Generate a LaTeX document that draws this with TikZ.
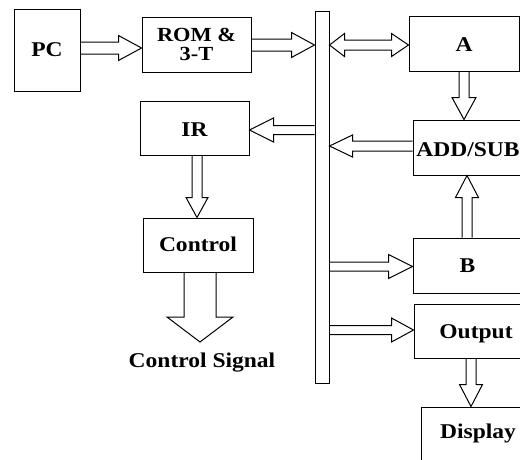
\documentclass[tikz,border=0pt]{standalone}
\usepackage{fontspec}
\setmainfont{Liberation Serif}[FakeStretch=1.12]
\usetikzlibrary{calc}
% block arrow: #1 start, #2 tip, #3 shaft half width, #4 head half width, #5 head length
\newcommand\blockarrow[5]{%
  \path #1 coordinate (ba-s) #2 coordinate (ba-t);
  \path ($(ba-t)!#5!(ba-s)$) coordinate (ba-b);
  \draw[blk] ($(ba-s)!#3!90:(ba-t)$) -- ($(ba-b)!#3!90:(ba-t)$) -- ($(ba-b)!#4!90:(ba-t)$)
    -- (ba-t) -- ($(ba-b)!#4!-90:(ba-t)$) -- ($(ba-b)!#3!-90:(ba-t)$) -- ($(ba-s)!#3!-90:(ba-t)$);
}
% double block arrow: #1 start tip, #2 end tip, #3 shaft half, #4 head half, #5 first head length, #6 second head length
\newcommand\dblarrow[6]{%
  \path #1 coordinate (da-s) #2 coordinate (da-t);
  \path ($(da-s)!#5!(da-t)$) coordinate (da-b1) ($(da-t)!#6!(da-s)$) coordinate (da-b2);
  \draw[blk] (da-s) -- ($(da-b1)!#4!90:(da-t)$) -- ($(da-b1)!#3!90:(da-t)$) -- ($(da-b2)!#3!90:(da-t)$)
    -- ($(da-b2)!#4!90:(da-t)$) -- (da-t) -- ($(da-b2)!#4!-90:(da-t)$) -- ($(da-b2)!#3!-90:(da-t)$)
    -- ($(da-b1)!#3!-90:(da-t)$) -- ($(da-b1)!#4!-90:(da-t)$) -- cycle;
}
\begin{document}
\begin{tikzpicture}[x=1pt, y=-1pt, line width=1pt,
  lbl/.style={font=\bfseries\fontsize{21}{18}\selectfont},
  box/.style={draw, rectangle, inner sep=0pt, lbl},
  cap/.style={text height=#1, text depth=0pt},
  cap/.default=13.9pt,
  blk/.style={draw, line width=1pt, line join=miter}]
\useasboundingbox (0,0) rectangle (520,459);

% boxes
\node[box, align=center, font=\bfseries\fontsize{20}{19}\selectfont, minimum width=109pt, minimum height=55pt] (rom) at (196.5,44.5) {ROM \&\\3-T};
\node[box, cap, minimum width=66pt, minimum height=82pt] (pc) at (47,50) {PC};
\node[box, cap=17.9pt, minimum width=109pt, minimum height=54pt] (ir) at (194.5,128) {IR};
\node[box, cap, minimum width=110pt, minimum height=54pt] (ctrl) at (198,245) {Control};
\node[box, minimum width=14pt, minimum height=372pt] (bus) at (322,197) {};
\node[box, cap=15.9pt, minimum width=110pt, minimum height=55pt] (a) at (464,43.5) {A};
\node[box, cap=18.9pt, minimum width=110pt, minimum height=55pt] (addsub) at (468,147.5) {ADD/SUB};
\node[box, cap, minimum width=109pt, minimum height=55pt] (b) at (467.5,265.5) {B};
\node[box, cap=15.9pt, minimum width=124pt, minimum height=54pt] (out) at (476,331) {Output};
\node[box, text height=13.9pt, text depth=8pt, minimum width=114pt, minimum height=58pt] (disp) at (478,436) {Display};
\node[lbl, anchor=base] (sig) at (202,367) {Control Signal};
\coordinate (sigtip) at (200,342);

% connectors
\blockarrow{(pc.east |- 0,48)}{(rom.west |- 0,48)}{6pt}{12.5pt}{23pt}
\blockarrow{(rom.east |- 0,45)}{(bus.west |- 0,45)}{6pt}{12.5pt}{23pt}
\dblarrow{(bus.east |- 0,45)}{(a.west |- 0,45)}{5pt}{11.5pt}{15pt}{17pt}
\blockarrow{(464,0 |- a.south)}{(464,0 |- addsub.north)}{5pt}{12pt}{22pt}
\blockarrow{(bus.west |- 0,130)}{(ir.east |- 0,130)}{4.5pt}{12pt}{24pt}
\blockarrow{(addsub.west |- 0,146)}{(bus.east |- 0,146)}{5pt}{11pt}{23pt}
\blockarrow{(197,0 |- ir.south)}{(197,0 |- ctrl.north)}{5pt}{11pt}{20pt}
\blockarrow{(200,0 |- ctrl.south)}{(sigtip)}{16pt}{33pt}{25pt}
\blockarrow{(467,0 |- b.north)}{(467,0 |- addsub.south)}{5pt}{11.5pt}{22pt}
\blockarrow{(bus.east |- 0,266.5)}{(b.west |- 0,266.5)}{4.5pt}{12pt}{24pt}
\blockarrow{(bus.east |- 0,330)}{(out.west |- 0,330)}{4.5pt}{12pt}{22pt}
\blockarrow{(471,0 |- out.south)}{(471,0 |- disp.north)}{5pt}{11.5pt}{22pt}
\end{tikzpicture}
\end{document}
